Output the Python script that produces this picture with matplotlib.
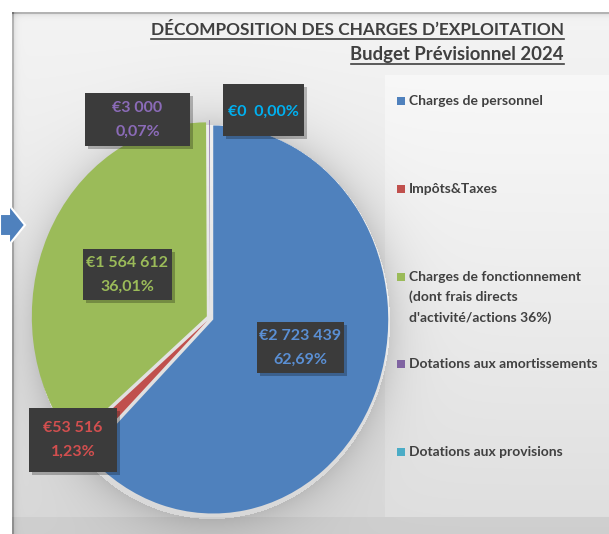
import numpy as np
import matplotlib.pyplot as plt
from matplotlib.patches import Rectangle, Polygon

plt.rcParams['font.family'] = ['Lato', 'DejaVu Sans']

# données du budget
categories = ["Charges de personnel",
              "Impôts&Taxes",
              "Charges de fonctionnement\n(dont frais directs\nd'activité/actions 36%)",
              "Dotations aux amortissements",
              "Dotations aux provisions"]
values = [2723439, 53516, 1564612, 3000, 0]
colors = ['#4f81bd', '#c0504d', '#9bbb59', '#8064a2', '#4bacc6']
label_colors = ['#5a8fd4', '#d24f4f', '#9bbb59', '#8b6bb8', '#00b0f0']
title1 = "DÉCOMPOSITION DES CHARGES D’EXPLOITATION"
title2 = "Budget Prévisionnel 2024"

# position des étiquettes (pixels, origine en haut à gauche)
label_boxes = [(257, 322, 344, 373), (29, 408, 117, 472), (83, 249, 172, 300),
               (85, 93, 190, 146), (223, 84, 304, 136)]
label_inline = [False, False, False, False, True]

W, H = 609, 534
fig = plt.figure(figsize=(W / 100, H / 100), dpi=100)

bg = fig.add_axes([0, 0, 1, 1])
bg.set_xlim(0, W)
bg.set_ylim(H, 0)
bg.axis('off')

'''fond dégradé gris'''
yy, xx = np.mgrid[0:H, 0:W] + 0.5
v = 0.955 - 0.11 * ((yy - 12) / (H - 12)).clip(0, 1) ** 1.2
v = v + 0.025 * ((xx >= 385) & (yy >= 75) & (yy <= 517))
# ombre douce autour du camembert
r = np.sqrt(((xx - 212) / 178) ** 2 + ((yy - 322) / 197) ** 2)
dist = (r - 1).clip(0, None) * 185
v = v - 0.12 * np.exp(-dist / 20) * (r > 1)
v = v - 0.25 * ((yy >= 12) & (yy < 14))
v = v - 0.08 * np.exp(-(yy - 14).clip(0, None) / 2.5) * (yy >= 14)
v = v - 0.25 * ((xx >= 12) & (xx < 14))
v = v - 0.08 * np.exp(-(xx - 14).clip(0, None) / 2.5) * (xx >= 14)
v = v - 0.035 * (yy > 517)
v[(yy < 12) | (xx < 12)] = 1.0
bg.imshow(np.dstack([v.clip(0, 1)] * 3), extent=(0, W, H, 0), aspect='auto',
          interpolation='bilinear', zorder=0)

# flèche bleue à gauche
bg.add_patch(Polygon([(0, 214), (9, 214), (9, 205), (25, 225), (9, 245), (9, 236), (0, 236)],
                     closed=True, fc='#4f81bd', ec='white', lw=1.5, zorder=2))

'''camembert'''
cx, cy, rx, ry, lim = 210, H - 318, 175, 194, 1.1
ax = fig.add_axes([(cx - lim * rx) / W, (cy - lim * ry) / H, 2 * lim * rx / W, 2 * lim * ry / H])
ax.pie(values, colors=colors, startangle=90, counterclock=False,
       explode=[0.02] * len(values), wedgeprops=dict(linewidth=0))
ax.set_xlim(-lim, lim)
ax.set_ylim(-lim, lim)
ax.set_aspect('auto')
ax.axis('off')

'''étiquettes de données'''
lab = fig.add_axes([0, 0, 1, 1])
lab.set_xlim(0, W)
lab.set_ylim(H, 0)
lab.axis('off')
total = sum(values)
for i, val in enumerate(values):
    x0, y0, x1, y1 = label_boxes[i]
    eur = "€" + f"{val:,}".replace(",", " ")
    pct = f"{val / total * 100:.2f}".replace(".", ",") + "%"
    lab.add_patch(Rectangle((x0 + 3, y0 + 3), x1 - x0, y1 - y0, fc='black', alpha=0.25, lw=0))
    lab.add_patch(Rectangle((x0, y0), x1 - x0, y1 - y0, fc='#3b3b3b', lw=0))
    xc, yc = (x0 + x1) / 2, (y0 + y1) / 2
    if label_inline[i]:
        lab.text(xc, yc + 2, eur + "  " + pct, ha='center', va='center', fontsize=11.5,
                 fontweight='bold', color=label_colors[i])
    else:
        lab.text(xc, yc - 11.5, eur, ha='center', va='center', fontsize=11.5,
                 fontweight='bold', color=label_colors[i])
        lab.text(xc, yc + 12, pct, ha='center', va='center', fontsize=11.5,
                 fontweight='bold', color=label_colors[i])

'''légende'''
for i, name in enumerate(categories):
    ym = 101 + i * 87.8
    lab.add_patch(Rectangle((397, ym - 4), 8, 8, fc=colors[i], lw=0))
    for k, line in enumerate(name.split("\n")):
        lab.text(409, ym + k * 20.5, line, ha='left', va='center', fontsize=10,
                 fontweight='bold', color='#404040')

'''titre souligné'''
t1 = lab.text(564, 35, title1, ha='right', va='baseline', fontsize=12.4,
              fontweight='bold', color='#404040')
t2 = lab.text(564, 60, title2, ha='right', va='baseline', fontsize=13.3,
              fontweight='bold', color='#404040')
fig.canvas.draw()
inv = lab.transData.inverted()
for t, yb in [(t1, 35), (t2, 60)]:
    bb = t.get_window_extent()
    xa = inv.transform((bb.x0, 0))[0]
    xb = inv.transform((bb.x1, 0))[0]
    lab.plot([xa, xb], [yb + 3.5, yb + 3.5], color='#404040', lw=1.2)

fig.savefig("out.png", dpi=100)
